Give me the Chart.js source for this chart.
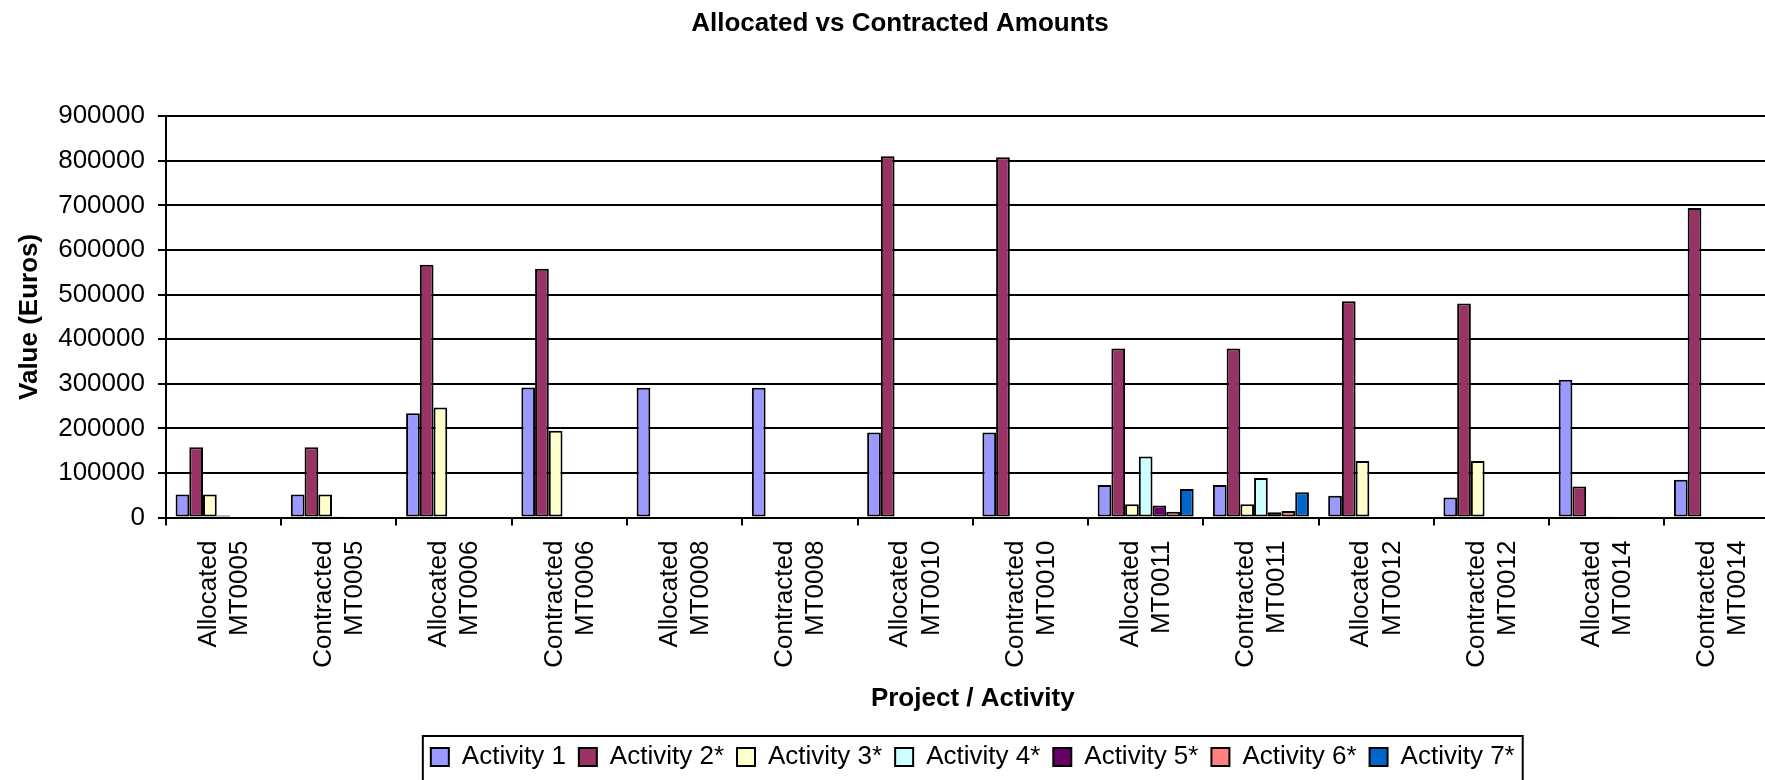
<!DOCTYPE html>
<html>
<head>
<meta charset="utf-8">
<title>Allocated vs Contracted Amounts</title>
<script src="https://cdn.jsdelivr.net/npm/chart.js@4/dist/chart.umd.min.js"></script>
<style>
  html, body { margin: 0; padding: 0; background: #fff; overflow: hidden; }
  #wrap { position: relative; width: 1800px; height: 780px; }
</style>
</head>
<body>
<div id="wrap"><canvas id="amountsChart"></canvas></div>
<script>
  // categories: [row 1, row 2] of each x label
  const categories = [
    ['Allocated', 'MT0005'], ['Contracted', 'MT0005'],
    ['Allocated', 'MT0006'], ['Contracted', 'MT0006'],
    ['Allocated', 'MT0008'], ['Contracted', 'MT0008'],
    ['Allocated', 'MT0010'], ['Contracted', 'MT0010'],
    ['Allocated', 'MT0011'], ['Contracted', 'MT0011'],
    ['Allocated', 'MT0012'], ['Contracted', 'MT0012'],
    ['Allocated', 'MT0014'], ['Contracted', 'MT0014']
  ];

  const seriesNames = ['Activity 1', 'Activity 2*', 'Activity 3*', 'Activity 4*', 'Activity 5*', 'Activity 6*', 'Activity 7*'];

  const activity1 = [52000, 52000, 234000, 292000, 291000, 291000, 191000, 191000, 73000, 73000, 49000, 45000, 309000, 85000];
  const activity2 = [158000, 158000, 567000, 558000, null, null, 810000, 808000, 379000, 379000, 485000, 480000, 70000, 694000];
  const activity3 = [52000, 52000, 247000, 195000, null, null, null, null, 30000, 30000, 127000, 127000, null, null];
  const activity4 = [5000, 3000, null, null, null, null, null, null, 137000, 89000, null, null, 2000, null];
  const activity5 = [null, null, null, null, null, null, null, null, 27000, 12000, null, null, null, null];
  const activity6 = [null, null, null, null, null, null, null, null, 13000, 15000, null, null, null, null];
  const activity7 = [null, null, null, null, null, null, null, null, 64000, 57000, null, null, null, null];

  const yTicks = [0, 100000, 200000, 300000, 400000, 500000, 600000, 700000, 800000, 900000];

  const colors = ['#9999FF', '#993366', '#FFFFCC', '#CCFFFF', '#660066', '#FF8080', '#0066CC'];
  const allSeries = [activity1, activity2, activity3, activity4, activity5, activity6, activity7];

  const FONT = "'Liberation Sans', Arial, sans-serif";
  Chart.defaults.color = '#000';
  Chart.defaults.font.family = FONT;

  // excel style frame round the legend, and title nudged to the chart centre
  const excelBits = {
    id: 'excelBits',
    afterLayout(chart) {
      const t = chart.titleBlock;
      if (t) { t.left += 9; t.right += 9; }
    },
    afterDraw(chart) {
      const lg = chart.legend;
      if (!lg || !lg.legendHitBoxes || !lg.legendHitBoxes.length) return;
      const hb = lg.legendHitBoxes;
      const left = Math.min(...hb.map(b => b.left)) - 8;
      const right = Math.max(...hb.map(b => b.left + b.width)) + 8;
      const mid = hb[0].top + hb[0].height / 2;
      const ctx = chart.ctx;
      ctx.save();
      ctx.strokeStyle = '#000';
      ctx.lineWidth = 2;
      ctx.strokeRect(left, mid - 21, right - left, 46);
      ctx.restore();
    }
  };

  const ctx = document.getElementById('amountsChart').getContext('2d');
  const amountsChart = new Chart(ctx, {
    type: 'bar',
    data: {
      labels: categories,
      datasets: allSeries.map((vals, i) => ({
        label: seriesNames[i],
        data: vals,
        backgroundColor: colors[i],
        borderColor: '#000',
        borderWidth: 2,
        borderSkipped: false,
        categoryPercentage: 0.833,
        barPercentage: 1.0
      }))
    },
    options: {
      responsive: true,
      maintainAspectRatio: false,
      animation: false,
      layout: { padding: { left: 0, right: 18, top: 0, bottom: 0 } },
      plugins: {
        title: {
          display: true,
          text: 'Allocated vs Contracted Amounts',
          font: { size: 26, weight: 'bold' },
          padding: { top: 8, bottom: 77 }
        },
        legend: {
          position: 'bottom',
          fullSize: false,
          labels: {
            font: { size: 26 },
            boxWidth: 18,
            boxHeight: 18,
            padding: 13
          }
        },
        tooltip: { enabled: false }
      },
      scales: {
        x: {
          grid: {
            display: true,
            drawOnChartArea: false,
            offset: true,
            tickLength: 8,
            color: '#000',
            lineWidth: 2
          },
          border: { color: '#000', width: 2 },
          ticks: {
            autoSkip: false,
            minRotation: 90,
            maxRotation: 90,
            padding: 15,
            labelOffset: -15,
            font: { size: 26, lineHeight: 1.2 }
          },
          title: {
            display: true,
            text: 'Project / Activity',
            font: { size: 26, weight: 'bold' },
            padding: { top: 0, bottom: 17 }
          }
        },
        y: {
          min: 0,
          max: 900000,
          afterBuildTicks: axis => { axis.ticks = yTicks.map(v => ({ value: v })); },
          grid: { color: '#000', lineWidth: 2, tickLength: 8 },
          border: { color: '#000', width: 2 },
          ticks: {
            padding: 13,
            font: { size: 26 },
            callback: v => String(v)
          },
          title: {
            display: true,
            text: 'Value (Euros)',
            font: { size: 26, weight: 'bold' },
            padding: { top: 14, bottom: 0 }
          }
        }
      }
    },
    plugins: [excelBits]
  });
</script>
</body>
</html>
